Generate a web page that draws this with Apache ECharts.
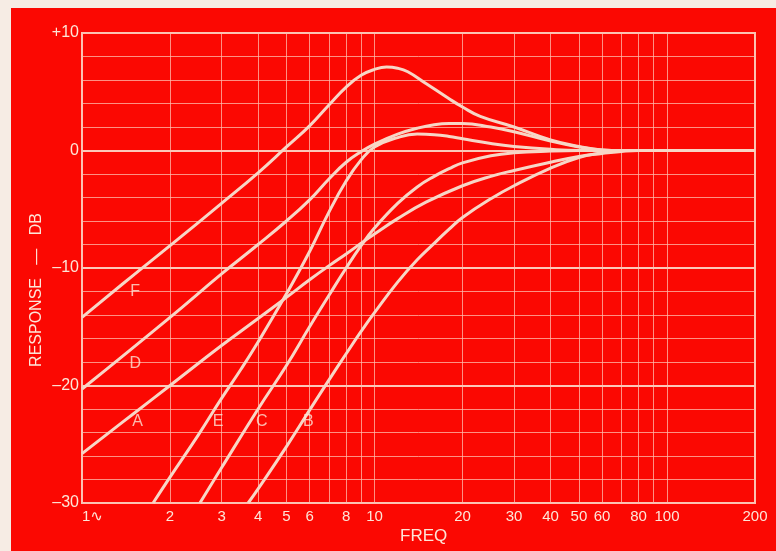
<!DOCTYPE html>
<html>
<head>
<meta charset="utf-8">
<script src="https://cdn.jsdelivr.net/npm/echarts@6/dist/echarts.min.js"></script>
<style>
  html, body { margin: 0; padding: 0; background: #f6ece4; }
  #chart { position: absolute; left: 11px; top: 8px; width: 765px; height: 543px; }
</style>
</head>
<body>
<div id="chart"></div>
<script>
// ---- data ----
const curveA = [[1,-25.8],[1.5,-22.4],[2,-20],[3,-16.6],[4,-14.3],[5,-12.5],[6,-11.0],[7,-9.8],[8,-8.8],[9,-7.9],[10,-7.1],[12,-5.8],[15,-4.4],[20,-3.0],[25,-2.2],[30,-1.7],[40,-1.0],[50,-0.5],[60,-0.25],[70,-0.08],[80,0],[200,0]];
const curveB = [[3.7,-30],[4,-28.8],[5,-25.2],[6,-22.1],[7,-19.5],[8,-17.3],[9,-15.4],[10,-13.8],[12,-11.2],[14,-9.3],[16,-7.9],[18,-6.7],[20,-5.7],[25,-4.1],[30,-3.0],[40,-1.5],[50,-0.6],[60,-0.2],[70,0],[200,0]];
const curveC = [[2.53,-30],[3,-27.0],[4,-22.0],[5,-18.3],[6,-15.0],[7,-12.3],[8,-10.0],[9,-8.1],[10,-6.6],[12,-4.5],[14,-3.1],[16,-2.2],[18,-1.55],[20,-1.05],[25,-0.45],[30,-0.2],[40,-0.05],[50,0],[200,0]];
const curveD = [[1,-20.3],[2,-14.2],[3,-10.5],[4,-8.0],[5,-6.0],[6,-4.2],[7,-2.4],[8,-1.0],[9,-0.1],[10,0.55],[12,1.4],[14,1.9],[16,2.2],[18,2.3],[20,2.3],[25,2.0],[30,1.6],[40,0.8],[50,0.3],[60,0.05],[70,0],[200,0]];
const curveE = [[1.75,-30],[2,-27.8],[2.5,-24.2],[3,-21.1],[3.5,-18.6],[4,-16.3],[5,-12.2],[6,-8.6],[7,-5.2],[8,-2.6],[9,-0.8],[10,0.3],[12,1.1],[14,1.4],[16,1.35],[18,1.2],[20,1.0],[25,0.6],[30,0.35],[40,0.1],[50,0],[200,0]];
const curveF = [[1,-14.2],[1.5,-10.6],[2,-8.1],[3,-4.5],[4,-1.9],[5,0.3],[6,2.1],[7,3.9],[8,5.4],[9,6.4],[10,6.9],[11,7.1],[12,7.0],[13,6.7],[15,5.7],[18,4.4],[20,3.7],[23,2.9],[30,2.0],[40,0.9],[50,0.35],[60,0.05],[70,0],[200,0]];
const curveNames = ['A','B','C','D','E','F'];
const labelPoints = [['F',1.52,-12.0],['D',1.52,-18.1],['A',1.55,-23.1],['E',2.92,-23.1],['C',4.12,-23.1],['B',5.94,-23.1]];
const xGridValues = [1,2,3,4,5,6,7,8,9,10,20,30,40,50,60,70,80,90,100,200];
const xLabelValues = [1,2,3,4,5,6,8,10,20,30,40,50,60,80,100,200];
const yMajorLines = [0,-10,-20];
const yLabelValues = [10,0,-10,-20,-30];

// ---- chart ----
const LINE = '#f7d6c6';
const GRID = 'rgba(255,190,175,0.75)';
const TEXT = '#fde6d8';
const FONT = '"Liberation Sans", "DejaVu Sans", sans-serif';
const chart = echarts.init(document.getElementById('chart'));
const curves = [curveA, curveB, curveC, curveD, curveE, curveF];

const series = curves.map((d, i) => ({
  name: curveNames[i], type: 'line', data: d, showSymbol: false, smooth: 0.45,
  lineStyle: { color: LINE, width: 3 }, z: 5, silent: true
}));
series.push({
  type: 'line', data: [], silent: true,
  markLine: {
    symbol: 'none', silent: true, label: { show: false },
    lineStyle: { color: GRID, width: 1, type: 'solid' },
    data: xGridValues.map(v => ({ xAxis: v }))
  }
});
series.push({
  type: 'line', data: [], silent: true,
  markLine: {
    symbol: 'none', silent: true, label: { show: false },
    lineStyle: { color: '#fcc8b8', width: 2, type: 'solid' },
    data: yMajorLines.map(v => ({ yAxis: v }))
  }
});
series.push({
  type: 'scatter', symbolSize: 1, itemStyle: { color: 'rgba(0,0,0,0)' }, silent: true, z: 6,
  data: labelPoints.map(p => ({ value: [p[1], p[2]], name: p[0] })),
  label: { show: true, position: 'inside', formatter: p => p.name, color: TEXT, fontSize: 16, fontFamily: FONT }
});

chart.setOption({
  backgroundColor: '#fb0802',
  animation: false,
  grid: { left: 71, right: 21, top: 25, bottom: 48, show: true, borderColor: '#fac4b4', borderWidth: 2 },
  xAxis: {
    type: 'log', logBase: 10, min: 1, max: 200,
    axisLine: { show: false }, axisTick: { show: false }, splitLine: { show: false },
    axisLabel: {
      customValues: xLabelValues, color: TEXT, fontSize: 15, fontFamily: FONT, margin: 6,
      alignMinLabel: 'left',
      formatter: v => v === 1 ? '1∿' : String(v)
    }
  },
  yAxis: {
    type: 'value', min: -30, max: 10, interval: 2,
    axisLine: { show: false }, axisTick: { show: false },
    splitLine: { show: true, lineStyle: { color: GRID, width: 1 } },
    axisLabel: {
      color: TEXT, fontSize: 16, fontFamily: FONT, margin: 3,
      formatter: v => yLabelValues.indexOf(v) >= 0 ? (v > 0 ? '+' + v : (v < 0 ? '\u2013' + (-v) : '0')) : ''
    }
  },
  graphic: [
    { type: 'text', left: 389, top: 520, style: { text: 'FREQ', fill: TEXT, fontSize: 17, fontFamily: FONT } },
    { type: 'text', x: 26, y: 282, rotation: Math.PI / 2,
      style: { text: 'RESPONSE   \u2014   DB', fill: TEXT, fontSize: 16, fontFamily: FONT, align: 'center', verticalAlign: 'middle' } }
  ],
  series: series
});
</script>
</body>
</html>
